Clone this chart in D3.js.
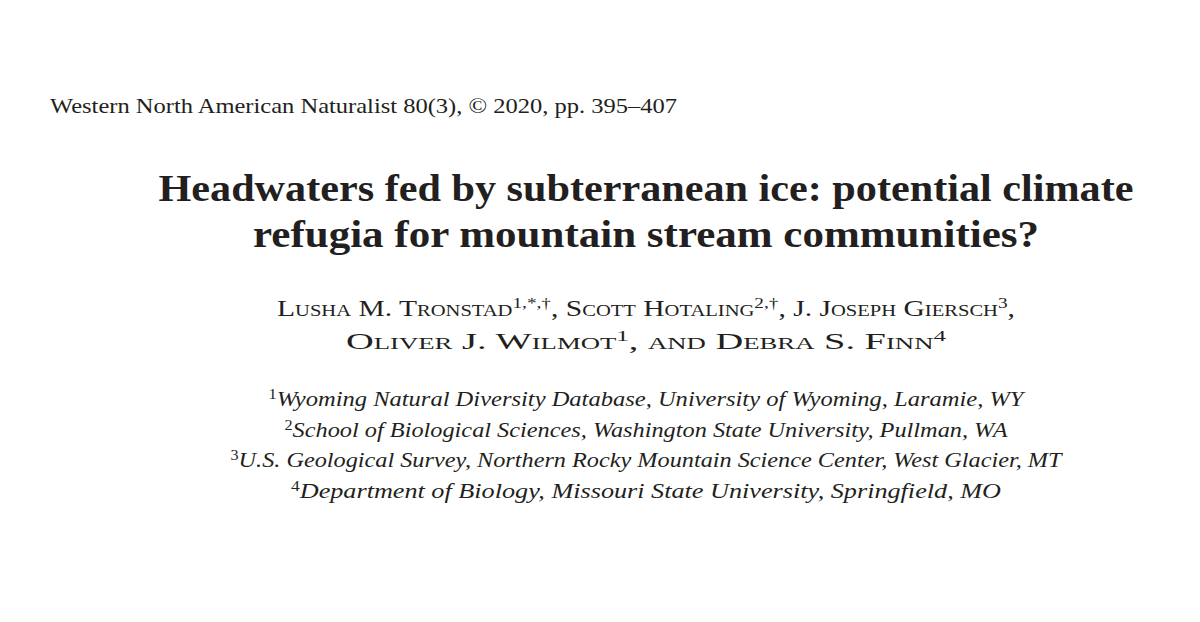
<!DOCTYPE html>
<html><head><meta charset="utf-8">
<script src="https://cdn.jsdelivr.net/npm/d3@7"></script>
<style>body{margin:0;background:#fff}text{font-family:"Liberation Serif","DejaVu Serif",serif;fill:#231f20}</style>
</head><body><svg id="page" width="1200" height="622"></svg>
<script>
const journalLine = "Western North American Naturalist 80(3), \u00a9 2020, pp. 395\u2013407";
const titleLines = ["Headwaters fed by subterranean ice: potential climate",
                    "refugia for mountain stream communities?"];
const titleWidths = [975, 786];
// each author line: pairs of [text, superscript]
const authorLines = [
  [["Lusha M. Tronstad", "1,*,\u2020"], [", Scott Hotaling", "2,\u2020"], [", J. Joseph Giersch", "3"], [",", ""]],
  [["Oliver J. Wilmot", "1"], [", and Debra S. Finn", "4"]]
];
const authorWidths = [738, 600];
const affiliations = [
  ["1", "Wyoming Natural Diversity Database, University of Wyoming, Laramie, WY"],
  ["2", "School of Biological Sciences, Washington State University, Pullman, WA"],
  ["3", "U.S. Geological Survey, Northern Rocky Mountain Science Center, West Glacier, MT"],
  ["4", "Department of Biology, Missouri State University, Springfield, MO"]
];
const affWidths = [755, 723, 831, 710];

const svg = d3.select("#page");
const cx = 646;

svg.append("text").attr("x", 50).attr("y", 113).attr("font-size", 21)
  .attr("textLength", 627).attr("lengthAdjust", "spacingAndGlyphs").text(journalLine);

svg.selectAll("text.title").data(titleLines).join("text")
  .attr("class", "title").attr("x", cx).attr("y", (d, i) => 201 + i * 46)
  .attr("text-anchor", "middle").attr("font-size", 37).attr("font-weight", "bold")
  .attr("textLength", (d, i) => titleWidths[i]).attr("lengthAdjust", "spacingAndGlyphs")
  .text(d => d);

const auth = svg.selectAll("text.auth").data(authorLines).join("text")
  .attr("class", "auth").attr("x", cx).attr("y", (d, i) => 316 + i * 33)
  .attr("text-anchor", "middle").attr("font-size", 23).style("font-variant", "small-caps")
  .attr("textLength", (d, i) => authorWidths[i]).attr("lengthAdjust", "spacingAndGlyphs");
auth.each(function(parts) {
  const t = d3.select(this);
  parts.forEach(([s, sup]) => {
    t.append("tspan").text(s);
    if (sup) t.append("tspan").attr("baseline-shift", "super").attr("font-size", 15).text(sup);
  });
});

const aff = svg.selectAll("text.aff").data(affiliations).join("text")
  .attr("class", "aff").attr("x", cx).attr("y", (d, i) => 406 + i * 30.5)
  .attr("text-anchor", "middle").attr("font-size", 21).attr("font-style", "italic")
  .attr("textLength", (d, i) => affWidths[i]).attr("lengthAdjust", "spacingAndGlyphs");
aff.append("tspan").attr("baseline-shift", "super").attr("font-size", 14).attr("font-style", "normal").text(d => d[0]);
aff.append("tspan").text(d => d[1]);
</script></body></html>
